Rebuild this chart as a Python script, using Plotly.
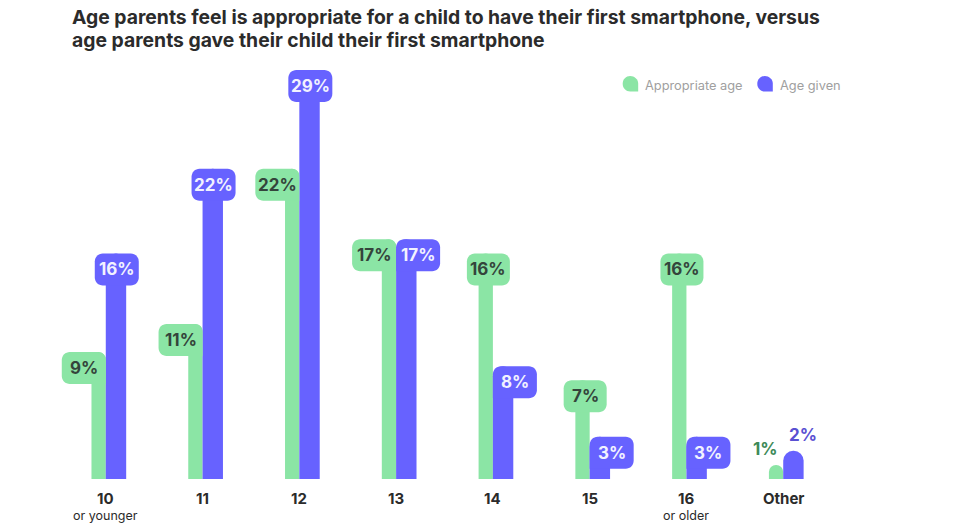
import plotly.graph_objects as go

# ---------------- data ----------------
categories = ["10", "11", "12", "13", "14", "15", "16", "Other"]
sublabels = ["or younger", "", "", "", "", "", "or older", ""]
appropriate = [9, 11, 22, 17, 16, 7, 16, 1]
given = [16, 22, 29, 17, 8, 3, 3, 2]
series_names = ["Appropriate age", "Age given"]
title_lines = ["Age parents feel is appropriate for a child to have their first smartphone, versus",
               "age parents gave their child their first smartphone"]

# ---------------- layout constants ----------------
W, H = 955, 532
ML, MR, MT, MB = 9, 75, 56, 53
XR = [-1, 8]
YR = [0, 30]
PW = W - ML - MR
PH = H - MT - MB
PX = (XR[1] - XR[0]) / PW   # data units per pixel (x)
PY = (YR[1] - YR[0]) / PH   # data units per pixel (y)

GREEN = "#8BE5A5"
PURPLE = "#6762FF"
GREEN_TXT = "#34443B"
PURPLE_TXT = "#F2F2FF"
FONT = "Inter"

GW, PWID = 14.3, 20.4        # bar widths (px)
BOXW, BOXH, R = 44, 32, 8    # label box size / corner radius (px)
K = 0.5523

x = list(range(len(categories)))

fig = go.Figure()
fig.add_bar(x=x, y=appropriate, width=GW * PX, offset=-GW * PX,
            marker=dict(color=GREEN, line=dict(width=0), cornerradius="50%"),
            name=series_names[0], showlegend=False, hoverinfo="skip")
fig.add_bar(x=x, y=given, width=PWID * PX, offset=0,
            marker=dict(color=PURPLE, line=dict(width=0), cornerradius="50%"),
            name=series_names[1], showlegend=False, hoverinfo="skip")


def rr_path(x0, x1, y0, y1, tl=True, tr=True, br=True, bl=True):
    rx, ry = R * PX, R * PY
    kx, ky = rx * K, ry * K
    p = []
    if tl:
        p.append(f"M{x0},{y1-ry} C{x0},{y1-ry+ky} {x0+rx-kx},{y1} {x0+rx},{y1}")
    else:
        p.append(f"M{x0},{y1}")
    if tr:
        p.append(f"L{x1-rx},{y1} C{x1-rx+kx},{y1} {x1},{y1-ry+ky} {x1},{y1-ry}")
    else:
        p.append(f"L{x1},{y1}")
    if br:
        p.append(f"L{x1},{y0+ry} C{x1},{y0+ry-ky} {x1-rx+kx},{y0} {x1-rx},{y0}")
    else:
        p.append(f"L{x1},{y0}")
    if bl:
        p.append(f"L{x0+rx},{y0} C{x0+rx-kx},{y0} {x0},{y0+ry-ky} {x0},{y0+ry}")
    else:
        p.append(f"L{x0},{y0}")
    p.append("Z")
    return " ".join(p)


annotations = []
green_shapes, purple_shapes = [], []
for i, (a, g) in enumerate(zip(appropriate, given)):
    c = x[i]
    if categories[i] == "Other":
        annotations.append(dict(x=c - 17.7 * PX, y=a + 16 * PY, text=f"<b>{a}%</b>",
                                showarrow=False, xanchor="center", yanchor="middle",
                                font=dict(family=FONT, size=17, color="#3E8A58")))
        annotations.append(dict(x=c + 19.8 * PX, y=g + 16 * PY, text=f"<b>{g}%</b>",
                                showarrow=False, xanchor="center", yanchor="middle",
                                font=dict(family=FONT, size=17, color="#5A50D2")))
        continue
    # green box
    if a > g:
        gx0, gx1 = c - 26 * PX, c + 17 * PX
        gp = rr_path(gx0, gx1, a - BOXH * PY, a)
    else:
        gx0, gx1 = c - BOXW * PX, c
        gp = rr_path(gx0, gx1, a - BOXH * PY, a, br=False)
    green_shapes.append(dict(type="path", path=gp, xref="x", yref="y",
                             fillcolor=GREEN, line=dict(width=0), layer="above"))
    annotations.append(dict(x=(gx0 + gx1) / 2, y=a - BOXH * PY / 2, text=f"<b>{a}%</b>",
                            showarrow=False, xanchor="center", yanchor="middle",
                            font=dict(family=FONT, size=17, color=GREEN_TXT)))
    # purple box
    if g > a:
        px0, px1 = c - 11 * PX, c + 33 * PX
        pp = rr_path(px0, px1, g - BOXH * PY, g)
    else:
        px0, px1 = c, c + BOXW * PX
        pp = rr_path(px0, px1, g - BOXH * PY, g, bl=False)
    purple_shapes.append(dict(type="path", path=pp, xref="x", yref="y",
                              fillcolor=PURPLE, line=dict(width=0), layer="above"))
    annotations.append(dict(x=(px0 + px1) / 2, y=g - BOXH * PY / 2, text=f"<b>{g}%</b>",
                            showarrow=False, xanchor="center", yanchor="middle",
                            font=dict(family=FONT, size=17, color=PURPLE_TXT)))
shapes = green_shapes + purple_shapes

# category labels
for i, cat in enumerate(categories):
    annotations.append(dict(x=x[i], y=0, yshift=-19, text=f"<b>{cat}</b>", showarrow=False,
                            xanchor="center", yanchor="middle",
                            font=dict(family=FONT, size=15, color="#2B2B2B")))
    if sublabels[i]:
        annotations.append(dict(x=x[i], y=0, yshift=-36, text=sublabels[i], showarrow=False,
                                xanchor="center", yanchor="middle",
                                font=dict(family=FONT, size=12.5, color="#2B2B2B")))


# page-pixel -> paper conversion (for title / legend placement)
def to_paper(px_x, px_y):
    return (px_x - ML) / PW, (H - MB - px_y) / PH


# title (two lines)
for line, ly in zip(title_lines, [17, 40]):
    tx, ty = to_paper(70, ly)
    annotations.append(dict(x=tx, y=ty, xref="paper", yref="paper", text=f"<b>{line}</b>",
                            showarrow=False, xanchor="left", yanchor="middle",
                            font=dict(family=FONT, size=19.35, color="#2B2B2B")))

# legend (manual)
legend_items = [(series_names[0], GREEN, 622.7), (series_names[1], PURPLE, 757.3)]
for name, col, lx in legend_items:
    px0, py1 = to_paper(lx, 76)
    px1, py0 = to_paper(lx + 15.5, 91.5)
    rxp, ryp = 7.5 / PW, 7.5 / PH
    kx, ky = rxp * K, ryp * K
    path = (f"M{px0},{py1-ryp} C{px0},{py1-ryp+ky} {px0+rxp-kx},{py1} {px0+rxp},{py1} "
            f"C{px0+rxp+kx},{py1} {px1},{py1-ryp+ky} {px1},{py1-ryp} "
            f"L{px1},{py0} L{px0+rxp},{py0} "
            f"C{px0+rxp-kx},{py0} {px0},{py0+ryp-ky} {px0},{py0+ryp} Z")
    shapes.append(dict(type="path", path=path, xref="paper", yref="paper",
                       fillcolor=col, line=dict(width=0)))
    tx, ty = to_paper(lx + 20.5, 85.7)
    annotations.append(dict(x=tx, y=ty, xref="paper", yref="paper", text=name,
                            showarrow=False, xanchor="left", yanchor="middle",
                            font=dict(family=FONT, size=12.8, color="#A0A0A0")))

fig.update_layout(
    width=W, height=H,
    margin=dict(l=ML, r=MR, t=MT, b=MB),
    paper_bgcolor="white", plot_bgcolor="white",
    barmode="overlay",
    xaxis=dict(range=XR, visible=False, fixedrange=True),
    yaxis=dict(range=YR, visible=False, fixedrange=True),
    shapes=shapes, annotations=annotations,
    showlegend=False,
)

fig.write_html("out.html",
               config={"displayModeBar": False, "staticPlot": True},
               post_script="document.body.style.margin='0';document.body.style.overflow='hidden';")
